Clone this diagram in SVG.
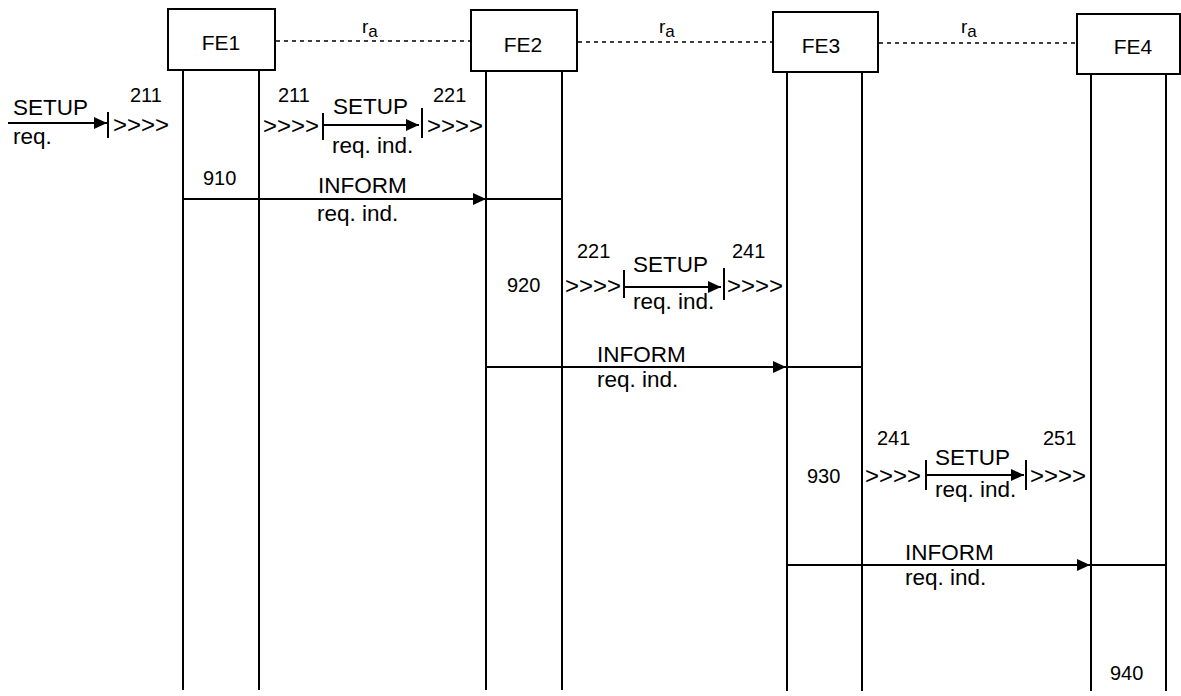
<svg xmlns="http://www.w3.org/2000/svg" width="1181" height="696" viewBox="0 0 1181 696">
<style>
text{font-family:"Liberation Sans",Arial,sans-serif;font-size:22.5px;fill:#000}
.num{font-size:20px}
.fe{font-size:21px}
.chev{font-size:24px}
.box{fill:#fff;stroke:#000;stroke-width:2}
.life{stroke:#000;stroke-width:2;fill:none}
.dash{stroke:#000;stroke-width:1.5;stroke-dasharray:4 4;fill:none}
.arr{stroke:#000;stroke-width:2;fill:none;marker-end:url(#ah)}
.ln{stroke:#000;stroke-width:2;fill:none}
.bar{stroke:#000;stroke-width:2;fill:none}
.ra{font-size:19px}
.sub{font-size:17px}
</style>
<defs>
<marker id="ah" markerUnits="userSpaceOnUse" markerWidth="14" markerHeight="12" refX="13" refY="6" orient="auto">
<path d="M0,0 L13,6 L0,12 Z" fill="#000"/>
</marker>
</defs>
<rect width="1181" height="696" fill="#fff"/>

<g id="FE1">
<rect class="box" x="168" y="9" width="107" height="61"/>
<text class="fe" x="221" y="50" text-anchor="middle">FE1</text>
<line class="life" x1="183" y1="70" x2="183" y2="690"/>
<line class="life" x1="259" y1="70" x2="259" y2="690"/>
</g>
<g id="FE2">
<rect class="box" x="471" y="10" width="106" height="61"/>
<text class="fe" x="523" y="52" text-anchor="middle">FE2</text>
<line class="life" x1="486" y1="71" x2="486" y2="690"/>
<line class="life" x1="562" y1="71" x2="562" y2="690"/>
</g>
<g id="FE3">
<rect class="box" x="773" y="12" width="105" height="60"/>
<text class="fe" x="821" y="53" text-anchor="middle">FE3</text>
<line class="life" x1="787" y1="72" x2="787" y2="691"/>
<line class="life" x1="862" y1="72" x2="862" y2="691"/>
</g>
<g id="FE4">
<rect class="box" x="1077" y="14" width="103" height="60"/>
<text class="fe" x="1133" y="54" text-anchor="middle">FE4</text>
<line class="life" x1="1091" y1="74" x2="1091" y2="691"/>
<line class="life" x1="1166" y1="74" x2="1166" y2="691"/>
</g>

<g id="connectors">
<line class="dash" x1="276" y1="41" x2="470" y2="41"/>
<line class="dash" x1="578" y1="42" x2="772" y2="42"/>
<line class="dash" x1="879" y1="43" x2="1076" y2="43"/>

<line class="arr" x1="8" y1="123" x2="107" y2="123"/>
<line class="bar" x1="108" y1="112" x2="108" y2="138"/>

<line class="bar" x1="323" y1="113" x2="323" y2="140"/>
<line class="arr" x1="323" y1="125" x2="419" y2="125"/>
<line class="bar" x1="422" y1="108" x2="422" y2="138"/>

<line class="ln" x1="183" y1="199" x2="562" y2="199"/>
<line class="arr" x1="183" y1="199" x2="486" y2="199"/>

<line class="bar" x1="624" y1="270" x2="624" y2="298"/>
<line class="arr" x1="624" y1="287" x2="721" y2="287"/>
<line class="bar" x1="724" y1="268" x2="724" y2="300"/>

<line class="ln" x1="486" y1="367" x2="862" y2="367"/>
<line class="arr" x1="486" y1="367" x2="786" y2="367"/>

<line class="bar" x1="926" y1="460" x2="926" y2="490"/>
<line class="arr" x1="926" y1="475" x2="1024" y2="475"/>
<line class="bar" x1="1026" y1="460" x2="1026" y2="490"/>

<line class="ln" x1="787" y1="565" x2="1166" y2="565"/>
<line class="arr" x1="787" y1="565" x2="1090" y2="565"/>
</g>

<g id="labels">
<text class="ra" x="362" y="33">r<tspan class="sub" dy="4">a</tspan></text>
<text class="ra" x="659" y="33">r<tspan class="sub" dy="4">a</tspan></text>
<text class="ra" x="961" y="33">r<tspan class="sub" dy="4">a</tspan></text>

<text x="13" y="115">SETUP</text>
<text x="13" y="144">req.</text>
<text class="num" x="130" y="102">211</text>
<text class="chev" x="113" y="133">&gt;&gt;&gt;&gt;</text>

<text class="num" x="278" y="102">211</text>
<text class="chev" x="263" y="134">&gt;&gt;&gt;&gt;</text>
<text x="333" y="114">SETUP</text>
<text x="332" y="153">req. ind.</text>
<text class="num" x="433" y="102">221</text>
<text class="chev" x="427" y="134">&gt;&gt;&gt;&gt;</text>

<text class="num" x="203" y="185">910</text>
<text x="318" y="193">INFORM</text>
<text x="317" y="221">req. ind.</text>

<text class="num" x="507" y="292">920</text>
<text class="num" x="577" y="258">221</text>
<text class="chev" x="565" y="294">&gt;&gt;&gt;&gt;</text>
<text x="633" y="272">SETUP</text>
<text x="633" y="309">req. ind.</text>
<text class="num" x="732" y="258">241</text>
<text class="chev" x="727" y="294">&gt;&gt;&gt;&gt;</text>

<text x="597" y="362">INFORM</text>
<text x="597" y="387">req. ind.</text>

<text class="num" x="807" y="483">930</text>
<text class="num" x="877" y="445">241</text>
<text class="chev" x="865" y="484">&gt;&gt;&gt;&gt;</text>
<text x="935" y="465">SETUP</text>
<text x="935" y="497">req. ind.</text>
<text class="num" x="1043" y="445">251</text>
<text class="chev" x="1030" y="484">&gt;&gt;&gt;&gt;</text>

<text x="905" y="560">INFORM</text>
<text x="905" y="585">req. ind.</text>

<text class="num" x="1110" y="680">940</text>
</g>
</svg>
